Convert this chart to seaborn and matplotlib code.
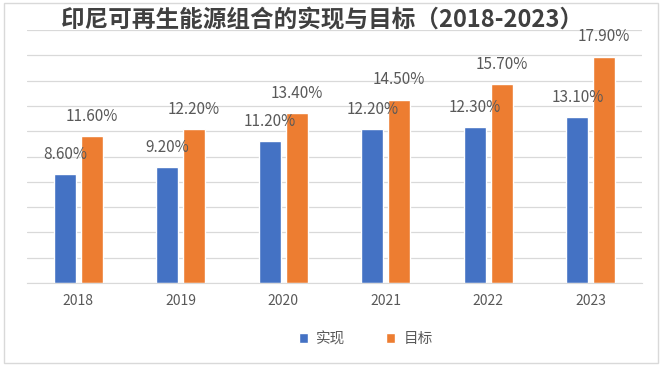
import pandas as pd
import numpy as np
import matplotlib.pyplot as plt
import matplotlib.patches as mpatches
import seaborn as sns

# data
years = ['2018', '2019', '2020', '2021', '2022', '2023']
actual = [8.6, 9.2, 11.2, 12.2, 12.3, 13.1]
target = [11.6, 12.2, 13.4, 14.5, 15.7, 17.9]
series_names = ['实现', '目标']

df = pd.DataFrame({
    'year': years * 2,
    'value': actual + target,
    'series': [series_names[0]] * len(years) + [series_names[1]] * len(years),
})

sns.set_style('white')
plt.rcParams['font.family'] = ['Noto Sans CJK SC', 'DejaVu Sans']

fig = plt.figure(figsize=(6.62, 3.66), dpi=100)
ax = fig.add_axes([27 / 662, 1 - 283 / 366, (642 - 27) / 662, (283 - 30) / 366])

sns.barplot(data=df, x='year', y='value', hue='series', order=years,
            hue_order=series_names, palette=['#4472C4', '#ED7D31'],
            width=0.52, gap=0.18, saturation=1, ax=ax, legend=True)

for cont in ax.containers:
    ax.bar_label(cont, labels=[f'{v:.2f}%' for v in cont.datavalues],
                 padding=8, fontsize=11, color='#595959')

ax.set_ylim(0, 20)
ax.set_xlim(-0.5, 5.5)
ax.set_yticks(np.arange(0, 21, 2))
ax.set_yticklabels([])
ax.yaxis.grid(True, color='#D9D9D9', linewidth=0.9)
ax.set_axisbelow(True)
for s in ['top', 'right', 'left']:
    ax.spines[s].set_visible(False)
ax.spines['bottom'].set_color('#D9D9D9')
ax.tick_params(axis='both', length=0)
ax.tick_params(axis='x', colors='#595959', labelsize=10, pad=8)
ax.set_xlabel('')
ax.set_ylabel('')

handles, labels = ax.get_legend_handles_labels()
ax.legend(handles, labels, loc='center', bbox_to_anchor=(366 / 662, 1 - 339 / 366),
          bbox_transform=fig.transFigure, ncol=2, frameon=False,
          handlelength=0.6, handleheight=0.6, handletextpad=0.6,
          columnspacing=2.8, fontsize=10.5, labelcolor='#595959')

fig.text(322 / 662, 1 - 20 / 366, '印尼可再生能源组合的实现与目标（2018-2023）',
         ha='center', va='center', fontsize=17, fontweight='bold', color='#404040')

# light outer border of the chart
fig.patches.append(mpatches.Rectangle((4 / 662, 3 / 366), 654 / 662, 360 / 366,
                                      transform=fig.transFigure, fill=False,
                                      edgecolor='#D9D9D9', linewidth=1))

fig.savefig('out.png', dpi=100)
